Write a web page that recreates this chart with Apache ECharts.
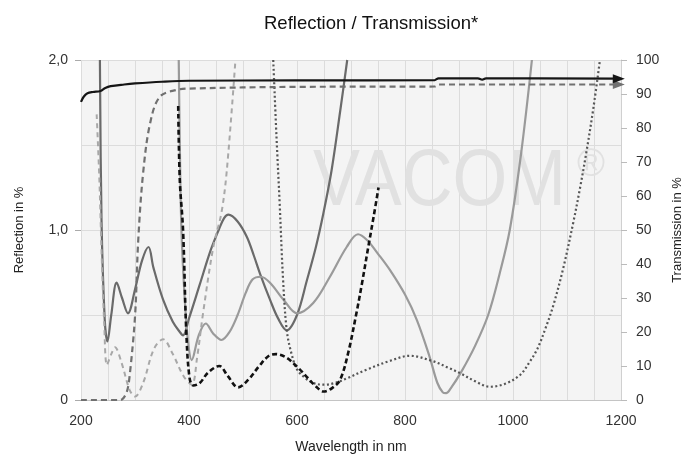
<!DOCTYPE html>
<html><head><meta charset="utf-8">
<script src="https://cdn.jsdelivr.net/npm/echarts@6/dist/echarts.min.js"></script>
<style>html,body{margin:0;padding:0;background:#fff}#c{width:698px;height:464px}</style>
</head><body><div id="c"></div>
<script>
// Transmission (right axis, %)
const tSolidX = [200,205,212,222,236,245,255,280,300,350,400,600,855,862,935,943,950,1196];
const tSolidY = [87.7,89.2,90.2,90.6,90.9,91.8,92.3,92.8,93.1,93.6,93.9,94.0,94.1,94.6,94.6,94.2,94.6,94.5];
const tDashX = [200,270,277,285,290,300,306,315,328,346,377,400,600,855,862,1196];
const tDashY = [0,0,0.3,2.5,7,24.5,47,66.7,81.4,89.2,91.2,91.6,92.1,92.2,92.8,92.8];
// Reflection (left axis, %)
const rDarkX = [235,238,244,249,256,266,276,287,300,313,325,334,352,370,383,389,400,420,440,455,465,473,490,507,520,533,550,565,581,600,618,635,649,664,680,693];
const rDarkY = [2.0,1.06,0.47,0.345,0.5,0.69,0.6,0.51,0.65,0.82,0.9,0.78,0.59,0.46,0.4,0.38,0.48,0.68,0.88,1.0,1.07,1.09,1.05,0.96,0.85,0.73,0.59,0.48,0.41,0.5,0.7,0.9,1.1,1.35,1.7,2.0];
const rMidX = [381,383,386,392,398,405,418,431,445,460,475,490,505,518,533,550,575,600,630,661,692,713,730,750,772,800,822,845,860,870,876,885,905,930,954,975,994,1015,1035];
const rMidY = [2.0,1.5,1.0,0.6,0.35,0.235,0.38,0.45,0.39,0.353,0.4,0.5,0.63,0.71,0.725,0.69,0.59,0.51,0.57,0.725,0.9,0.975,0.94,0.86,0.765,0.62,0.47,0.26,0.1,0.045,0.04,0.07,0.17,0.32,0.5,0.74,1.0,1.45,2.0];
const rLightX = [229,234,238,243,248,256,263,275,290,300,315,335,352,370,390,405,415,426,445,460,470,486];
const rLightY = [1.68,1.3,0.88,0.45,0.206,0.27,0.31,0.22,0.06,0.02,0.1,0.3,0.357,0.27,0.14,0.09,0.25,0.51,0.9,1.1,1.35,2.0];
const rBlackX = [380,383,389,395,401,408,420,435,456,472,491,510,530,548,561,580,602,620,635,649,665,680,695,710,720,732,742,751];
const rBlackY = [1.73,1.29,1.0,0.4,0.13,0.085,0.1,0.16,0.2,0.14,0.074,0.12,0.2,0.26,0.27,0.25,0.19,0.13,0.08,0.05,0.07,0.12,0.28,0.51,0.68,0.9,1.08,1.25];
const rDotX = [556,562,568,574,581,590,600,615,630,650,670,692,730,772,809,850,880,905,930,957,985,1013,1030,1045,1060,1075,1093,1112,1124,1136,1149,1161];
const rDotY = [2.0,1.55,1.15,0.72,0.41,0.27,0.18,0.13,0.1,0.09,0.1,0.127,0.18,0.23,0.26,0.23,0.19,0.153,0.11,0.078,0.095,0.147,0.22,0.3,0.42,0.56,0.775,1.05,1.245,1.46,1.72,2.0];
const xTicks = [200,400,600,800,1000,1200];
const title = 'Reflection / Transmission*';

const zip = (xs, ys) => xs.map((x, i) => [x, ys[i]]);
const font = 'Liberation Sans, Arial, sans-serif';

function line(name, xs, ys, yIdx, color, width, type, z, arrow) {
  const s = {
    name, type: 'line', xAxisIndex: 0, yAxisIndex: yIdx,
    data: zip(xs, ys), showSymbol: false, symbol: 'none',
    smooth: 0.35, z,
    lineStyle: { color, width, type },
    emphasis: { disabled: true }, silent: true
  };
  if (arrow) {
    const n = xs.length - 1;
    s.markPoint = {
      symbol: 'triangle', symbolSize: [9, 12], symbolRotate: -90,
      itemStyle: { color }, label: { show: false }, silent: true,
      data: [{ coord: [xs[n], ys[n]] }]
    };
  }
  return s;
}

const chart = echarts.init(document.getElementById('c'), null, { renderer: 'canvas' });
chart.setOption({
  animation: false,
  backgroundColor: '#ffffff',
  textStyle: { fontFamily: font },
  title: { text: title, left: 259, top: 9, textStyle: { fontFamily: font, fontSize: 18.5, fontWeight: 'normal', color: '#111' } },
  grid: { left: 81, top: 60, width: 540, height: 340, show: true, backgroundColor: '#f4f4f4', borderWidth: 0 },
  graphic: [
    { type: 'text', x: 313, y: 143, scaleX: 0.88, z: 1, style: { text: 'VACOM', fontFamily: font, fontSize: 80, fill: '#e1e1e1' } },
    { type: 'text', x: 577, y: 147, z: 1, style: { text: '®', fontFamily: font, fontSize: 38, fill: '#e1e1e1' } }
  ],
  xAxis: [
    { type: 'value', min: 200, max: 1200, interval: 200, position: 'bottom',
      name: 'Wavelength in nm', nameLocation: 'middle', nameGap: 40,
      nameTextStyle: { fontFamily: font, fontSize: 14, color: '#222' },
      axisLine: { show: true, lineStyle: { color: '#c4c4c4', width: 1 } },
      axisTick: { show: false }, splitLine: { show: false },
      axisLabel: { fontFamily: font, fontSize: 14, color: '#333', margin: 14,
        formatter: v => String(v) } },
    { type: 'value', min: 200, max: 1200, interval: 50, position: 'bottom',
      axisLine: { show: false }, axisTick: { show: false }, axisLabel: { show: false },
      splitLine: { show: true, lineStyle: { color: '#dcdcdc', width: 1 } } }
  ],
  yAxis: [
    { type: 'value', min: 0, max: 2, interval: 1, position: 'left',
      name: 'Reflection in %', nameLocation: 'middle', nameGap: 55, nameRotate: 90,
      nameTextStyle: { fontFamily: font, fontSize: 13, color: '#222' },
      axisLine: { show: false },
      axisTick: { show: true, length: 6, lineStyle: { color: '#aaa' } },
      splitLine: { show: false },
      axisLabel: { fontFamily: font, fontSize: 14, color: '#333', margin: 13,
        formatter: v => v === 0 ? '0' : v.toFixed(1).replace('.', ',') } },
    { type: 'value', min: 0, max: 100, interval: 10, position: 'right',
      name: 'Transmission in %', nameLocation: 'middle', nameGap: 50, nameRotate: 90,
      nameTextStyle: { fontFamily: font, fontSize: 13, color: '#222' },
      axisLine: { show: true, lineStyle: { color: '#d0d0d0' } },
      axisTick: { show: true, length: 6, lineStyle: { color: '#bbb' } },
      splitLine: { show: false },
      axisLabel: { fontFamily: font, fontSize: 14, color: '#333', margin: 15 } },
    { type: 'value', min: 0, max: 2, interval: 0.5, position: 'left',
      axisLine: { show: false }, axisTick: { show: false }, axisLabel: { show: false },
      splitLine: { show: true, lineStyle: { color: '#dcdcdc', width: 1 } } }
  ],
  series: [
    line('Refl. A', rDarkX, rDarkY, 0, '#6a6a6a', 2.2, 'solid', 3),
    line('Refl. B', rMidX, rMidY, 0, '#9a9a9a', 2.2, 'solid', 3),
    line('Refl. C', rLightX, rLightY, 0, '#a8a8a8', 2, [5, 4], 3),
    line('Refl. D', rDotX, rDotY, 0, '#555555', 2.2, [2, 2.5], 3),
    line('Refl. E', rBlackX, rBlackY, 0, '#111111', 2.6, [5, 3], 4),
    line('Trans. dashed', tDashX, tDashY, 1, '#707070', 2.2, [6, 4], 5, true),
    line('Trans. solid', tSolidX, tSolidY, 1, '#151515', 2.2, 'solid', 6, true)
  ]
});
</script></body></html>
